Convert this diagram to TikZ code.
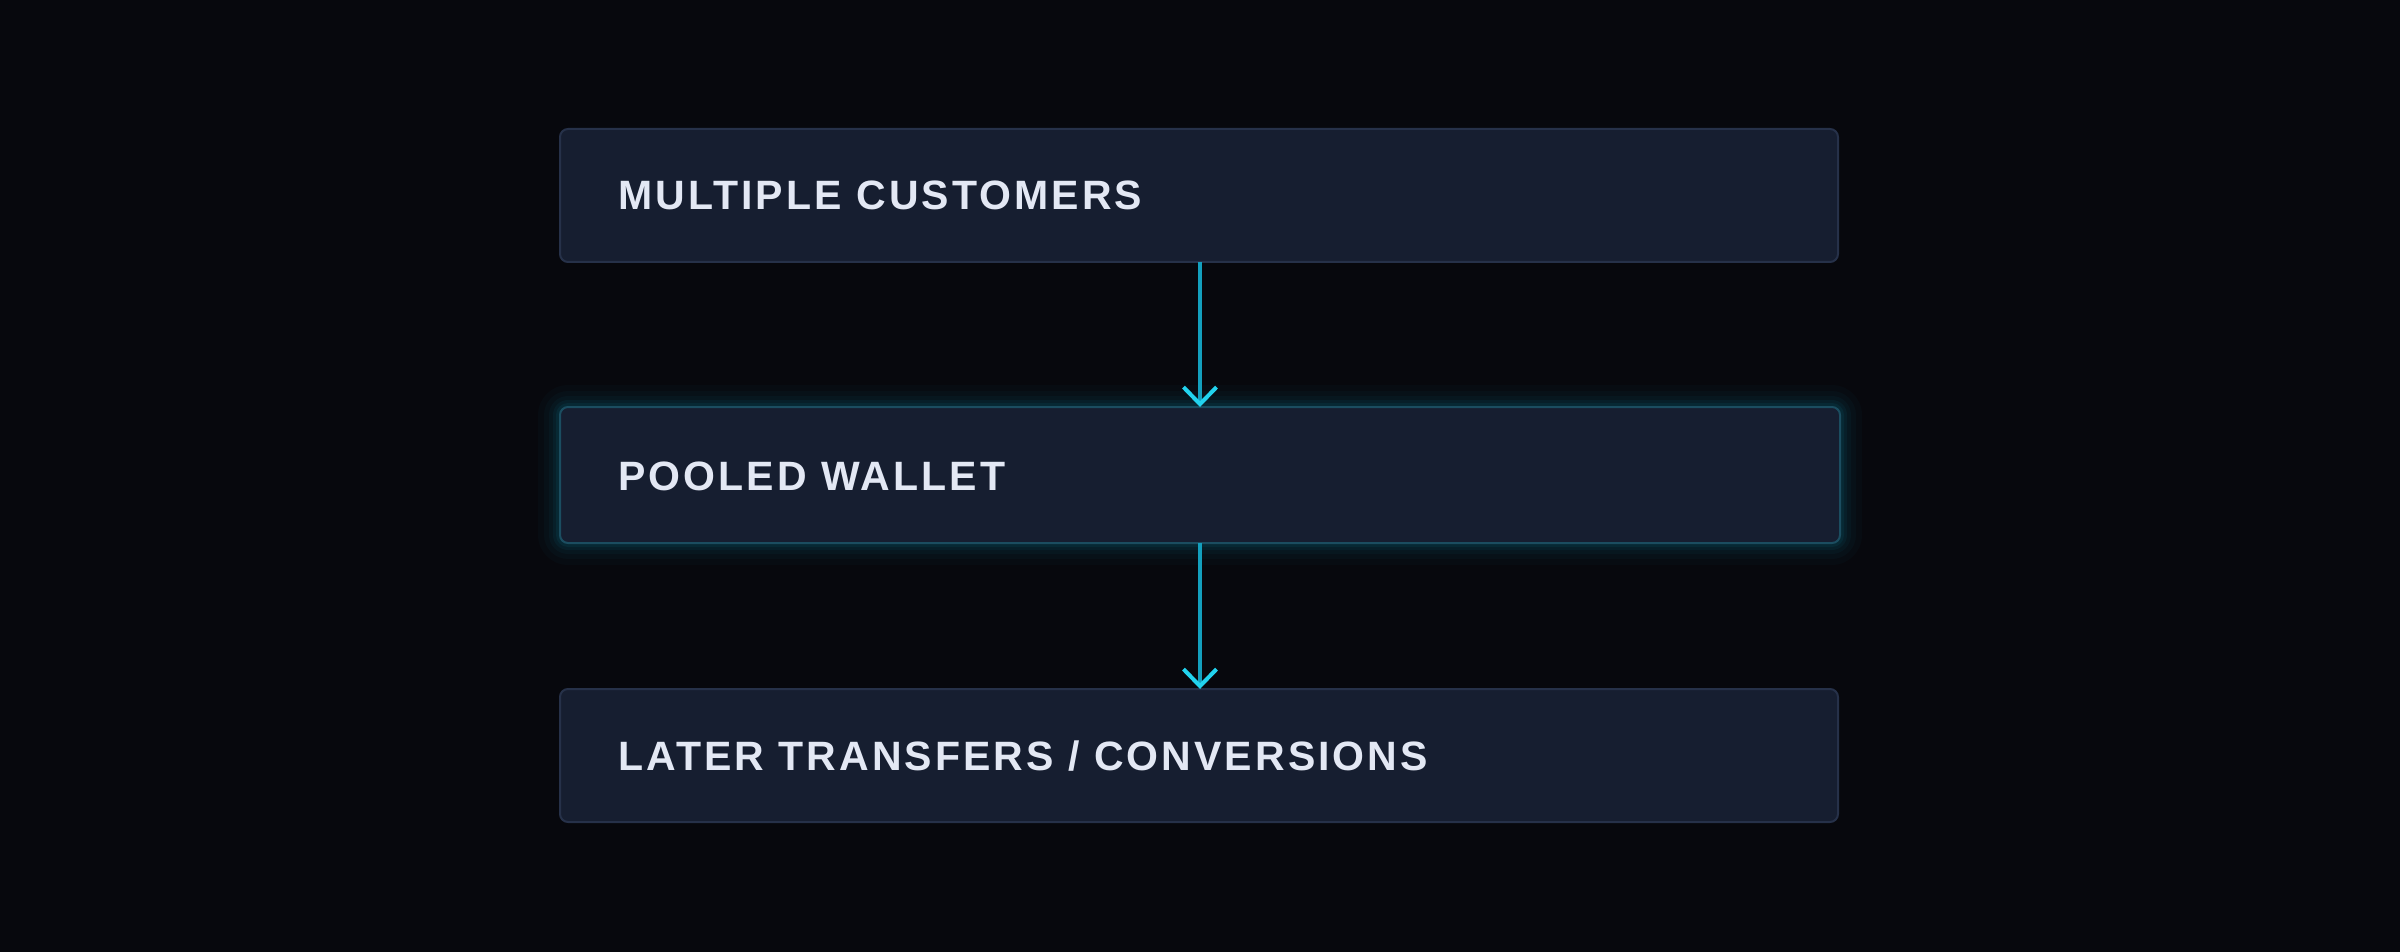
\documentclass[tikz,border=0pt]{standalone}
\usepackage{fontspec}
\setmainfont{Liberation Sans}[LetterSpace=7.5]
\usetikzlibrary{arrows.meta}
\definecolor{bg}{HTML}{07080D}
\definecolor{boxfill}{HTML}{161E30}
\definecolor{boxline}{HTML}{263149}
\definecolor{glowline}{HTML}{1B4D60}
\definecolor{glow}{HTML}{0E8FAE}
\definecolor{arrowline}{HTML}{139FBD}
\definecolor{arrowhead}{HTML}{22D3EE}
\definecolor{txt}{HTML}{E3E8F4}
\tikzset{
  x=0.5pt,y=-0.5pt,
  card/.style={draw=boxline,line width=1pt,fill=boxfill,rounded corners=4pt},
  label/.style={anchor=base west,inner sep=0pt,text=txt,font=\bfseries\fontsize{20.5}{24}\selectfont},
  flow/.style={draw=arrowline,line width=2pt,-{Straight Barb[length=8.5pt,width=16.5pt,line width=2pt,color=arrowhead]}}
}
\begin{document}
\begin{tikzpicture}
\fill[bg] (0,0) rectangle (2400,952);
\useasboundingbox (0,0) rectangle (2400,952);
% glow around pooled wallet
\foreach \d/\o in {22/0.03,16/0.04,11/0.05,7/0.07,4/0.09}{
  \fill[glow,opacity=\o,rounded corners=4pt+\d*0.5pt] (560-\d,407-\d) rectangle (1840+\d,543+\d);
}
\path[card] (560,129) rectangle (1838,262);
\coordinate (b1) at (1200,262);
\path[card,draw=glowline] (560,407) rectangle (1840,543);
\coordinate (b2t) at (1200,407);
\coordinate (b2b) at (1200,543);
\path[card] (560,689) rectangle (1838,822);
\coordinate (b3t) at (1200,689);
\node[label] (t1) at (618,210) {MULTIPLE CUSTOMERS};
\node[label] (t2) at (618,490) {POOLED WALLET};
\node[label] (t3) at (618,770) {LATER TRANSFERS / CONVERSIONS};
\draw[flow] (b1) -- (b2t);
\draw[flow] (b2b) -- (b3t);
\end{tikzpicture}
\end{document}
